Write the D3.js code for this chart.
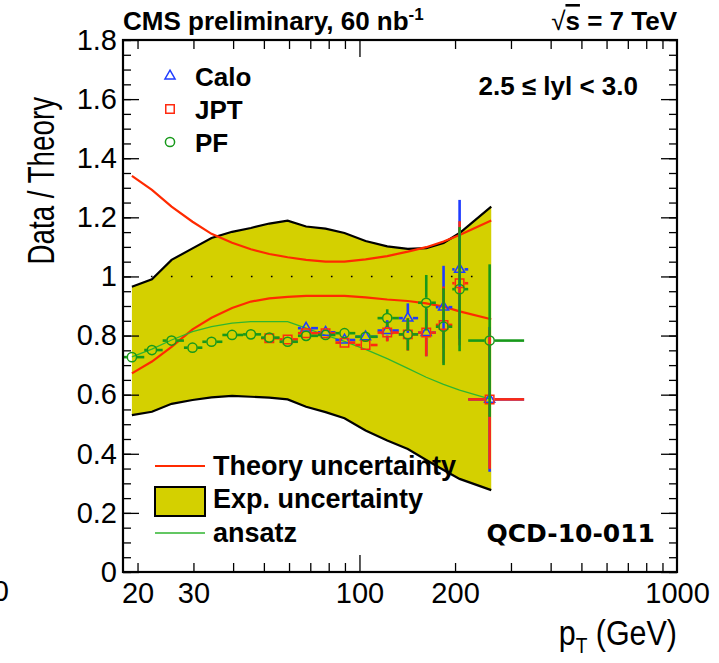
<!DOCTYPE html>
<html>
<head>
<meta charset="utf-8">
<script src="https://cdn.jsdelivr.net/npm/d3@7"></script>
<style>
body{margin:0;background:#fff;}
text{font-family:"Liberation Sans",Arial,Helvetica,sans-serif;fill:#000;}
</style>
</head>
<body>
<div id="plotDiv"></div>
<script>
// ---- data ----
const binEdges = [18, 21, 24, 28, 32, 37, 43, 49, 56, 64, 74, 84, 97, 114, 133, 153, 174, 196, 220, 330];
const ptCenters = [19.2, 22.2, 25.6, 29.8, 34.2, 39.7, 45.5, 52.0, 59.4, 67.9, 78.2, 89.7, 104.5, 122.3, 142, 162.3, 184, 206.7, 257];

const pfRatio = [0.727, 0.751, 0.783, 0.759, 0.779, 0.802, 0.804, 0.793, 0.779, 0.799, 0.802, 0.808, 0.796, 0.859, 0.804, 0.911, 0.830, 0.957, 0.783];
const pfErr   = [0.012, 0.012, 0.012, 0.012, 0.012, 0.012, 0.012, 0.012, 0.012, 0.012, 0.012, 0.012, 0.015, 0.03, 0.054, 0.094, 0.13, 0.21, 0.258];

const jptRatio = [null, null, null, null, null, null, null, 0.791, 0.787, 0.808, 0.808, 0.776, 0.768, 0.810, 0.804, 0.810, 0.836, 0.977, 0.584];
const jptErr   = [null, null, null, null, null, null, null, 0.012, 0.012, 0.012, 0.012, 0.012, 0.015, 0.03, 0.055, 0.08, 0.13, 0.21, 0.235];

const caloRatio = [null, null, null, null, null, null, null, null, null, 0.825, 0.811, 0.785, 0.796, 0.817, 0.859, 0.810, 0.896, 1.024, 0.584];
const caloErr   = [null, null, null, null, null, null, null, null, null, 0.012, 0.012, 0.012, 0.015, 0.035, 0.05, 0.08, 0.14, 0.235, 0.245];

// smooth curves (theory band, exp band, ansatz)
const curvePt = [19.2, 22.2, 25.6, 29.8, 34.2, 39.7, 45.5, 52.0, 59.4, 67.9, 78.2, 89.7, 104.5, 122.3, 142, 162.3, 184, 206.7, 260];
const expUp   = [0.965, 0.99, 1.056, 1.095, 1.130, 1.151, 1.164, 1.179, 1.189, 1.169, 1.162, 1.147, 1.120, 1.102, 1.093, 1.096, 1.113, 1.147, 1.236];
const expDown = [0.531, 0.542, 0.569, 0.582, 0.591, 0.596, 0.593, 0.590, 0.584, 0.559, 0.541, 0.520, 0.479, 0.445, 0.416, 0.379, 0.345, 0.315, 0.277];
const theoUp   = [1.340, 1.293, 1.236, 1.185, 1.144, 1.114, 1.092, 1.076, 1.065, 1.056, 1.050, 1.050, 1.058, 1.069, 1.084, 1.099, 1.118, 1.140, 1.189];
const theoDown = [0.672, 0.712, 0.762, 0.821, 0.860, 0.893, 0.915, 0.926, 0.931, 0.934, 0.934, 0.934, 0.929, 0.922, 0.917, 0.909, 0.898, 0.882, 0.855];
const ansatz   = [0.728, 0.754, 0.785, 0.813, 0.830, 0.842, 0.847, 0.847, 0.847, 0.825, 0.801, 0.780, 0.753, 0.722, 0.689, 0.659, 0.635, 0.615, 0.584];

// axis ticks
const xMinorTicks = [20, 30, 40, 50, 60, 70, 80, 90, 200, 300, 400, 500, 600, 700, 800, 900];
const xMajorTicks = [100];
const xTickLabels = [20, 30, 100, 200, 1000];
const yTickLabels = [0, 0.2, 0.4, 0.6, 0.8, 1, 1.2, 1.4, 1.6, 1.8];

// ---- setup ----
const W = 719, H = 663;
const frame = {left:123, right:677, top:40, bottom:572};

const svg = d3.select("#plotDiv").append("svg")
    .attr("width", W).attr("height", H);

const x = d3.scaleLog().domain([18, 1000]).range([frame.left, frame.right]);
const y = d3.scaleLinear().domain([0, 1.8]).range([frame.bottom, frame.top]);

const cBlue = "#1f3cff", cRed = "#ff2a10", cGreen = "#17991a";
const cYellow = "#d4d000";

// ---- exp uncertainty band ----
const bandArea = d3.area()
    .x((d, i) => x(curvePt[i]))
    .y0((d, i) => y(expDown[i]))
    .y1((d, i) => y(expUp[i]));
svg.append("path").datum(curvePt).attr("d", bandArea).attr("fill", cYellow);

const lineOf = arr => d3.line().x((d, i) => x(curvePt[i])).y((d, i) => y(arr[i]));
svg.append("path").datum(curvePt).attr("d", lineOf(expUp)).attr("fill", "none").attr("stroke", "#000").attr("stroke-width", 2.2);
svg.append("path").datum(curvePt).attr("d", lineOf(expDown)).attr("fill", "none").attr("stroke", "#000").attr("stroke-width", 2.2);

// dotted line at 1
svg.append("line")
    .attr("x1", x(22.2) - 1).attr("x2", 482)
    .attr("y1", y(1)).attr("y2", y(1))
    .attr("stroke", "#000").attr("stroke-width", 1.6)
    .attr("stroke-dasharray", "1.6,18.4");

// theory uncertainty lines
[theoUp, theoDown].forEach(arr => {
  svg.append("path").datum(curvePt).attr("d", lineOf(arr))
    .attr("fill", "none").attr("stroke", "#ff2a00").attr("stroke-width", 2.2);
});

// ansatz
svg.append("path").datum(curvePt).attr("d", lineOf(ansatz))
    .attr("fill", "none").attr("stroke", "#2fb52f").attr("stroke-width", 1.3);

// ---- data points ----
function drawSeries(vals, errs, color, shape) {
  const g = svg.append("g");
  const gap = 5;
  vals.forEach((v, i) => {
    if (v === null) return;
    const cx = x(ptCenters[i]), cy = y(v);
    const xl = x(binEdges[i]), xr = x(binEdges[i + 1]);
    const yt = y(v + errs[i]), yb = y(v - errs[i]);
    const segs = [];
    if (cx - gap > xl) segs.push([xl, cy, cx - gap, cy]);
    if (xr > cx + gap) segs.push([cx + gap, cy, xr, cy]);
    if (cy - gap > yt) segs.push([cx, yt, cx, cy - gap]);
    if (yb > cy + gap) segs.push([cx, cy + gap, cx, yb]);
    segs.forEach(s => g.append("line")
      .attr("x1", s[0]).attr("y1", s[1]).attr("x2", s[2]).attr("y2", s[3])
      .attr("stroke", color).attr("stroke-width", 2.6));
    drawMarker(g, cx, cy, color, shape);
  });
}

function drawMarker(g, cx, cy, color, shape) {
  if (shape === "circle") {
    g.append("circle").attr("cx", cx).attr("cy", cy).attr("r", 4.6)
      .attr("fill", "none").attr("stroke", color).attr("stroke-width", 1.5);
  } else {
    const sym = shape === "triangle" ? d3.symbolTriangle : d3.symbolSquare;
    const size = shape === "triangle" ? 44 : 72;
    g.append("path").attr("d", d3.symbol().type(sym).size(size)())
      .attr("transform", `translate(${cx},${cy})`)
      .attr("fill", "none").attr("stroke", color).attr("stroke-width", 1.5);
  }
}

drawSeries(caloRatio, caloErr, cBlue, "triangle");
drawSeries(jptRatio, jptErr, cRed, "square");
drawSeries(pfRatio, pfErr, cGreen, "circle");

// ---- axes ----
function noDomain(g) { g.select(".domain").remove(); }

svg.append("g").attr("transform", `translate(0,${frame.bottom})`)
    .call(d3.axisBottom(x).tickValues(xMinorTicks).tickSize(-9).tickFormat("")).call(noDomain);
svg.append("g").attr("transform", `translate(0,${frame.bottom})`)
    .call(d3.axisBottom(x).tickValues(xMajorTicks).tickSize(-17).tickFormat("")).call(noDomain);
svg.append("g").attr("transform", `translate(0,${frame.top})`)
    .call(d3.axisTop(x).tickValues(xMinorTicks).tickSize(-9).tickFormat("")).call(noDomain);
svg.append("g").attr("transform", `translate(0,${frame.top})`)
    .call(d3.axisTop(x).tickValues(xMajorTicks).tickSize(-17).tickFormat("")).call(noDomain);

const xLab = svg.append("g").attr("transform", `translate(0,${frame.bottom})`)
    .call(d3.axisBottom(x).tickValues(xTickLabels).tickSize(0).tickPadding(8).tickFormat(d3.format("d")))
    .call(noDomain);
xLab.selectAll("text").style("font-size", "29px").attr("dy", "0.78em");

const yMinor = d3.range(0, 37).map(i => i * 0.05);
svg.append("g").attr("transform", `translate(${frame.left},0)`)
    .call(d3.axisLeft(y).tickValues(yMinor).tickSize(-8).tickFormat("")).call(noDomain);
svg.append("g").attr("transform", `translate(${frame.right},0)`)
    .call(d3.axisRight(y).tickValues(yMinor).tickSize(-8).tickFormat("")).call(noDomain);
svg.append("g").attr("transform", `translate(${frame.right},0)`)
    .call(d3.axisRight(y).tickValues(yTickLabels).tickSize(-16).tickFormat("")).call(noDomain);
const yLab = svg.append("g").attr("transform", `translate(${frame.left},0)`)
    .call(d3.axisLeft(y).tickValues(yTickLabels).tickSize(-16).tickPadding(6)
      .tickFormat(d => d === 0 ? "0" : d === 1 ? "1" : d.toFixed(1)))
    .call(noDomain);
yLab.selectAll("text").style("font-size", "29px");
svg.selectAll(".tick line").attr("stroke", "#000").attr("stroke-width", 1.3);

// frame
svg.append("rect")
    .attr("x", frame.left).attr("y", frame.top)
    .attr("width", frame.right - frame.left).attr("height", frame.bottom - frame.top)
    .attr("fill", "none").attr("stroke", "#000").attr("stroke-width", 2.2);

// clipped neighbour label at far left
svg.append("text").attr("x", 9).attr("y", 601).attr("text-anchor", "end")
    .style("font-size", "29px").text("0");

// ---- titles ----
svg.append("text")
    .attr("transform", "translate(54,97) rotate(-90) scale(0.75,1)")
    .attr("text-anchor", "end")
    .style("font-size", "37px").text("Data / Theory");

const xt = svg.append("text")
    .attr("transform", `translate(${frame.right},645) scale(0.87,1)`)
    .attr("text-anchor", "end").style("font-size", "35px");
xt.append("tspan").text("p");
xt.append("tspan").attr("dy", 8).style("font-size", "22px").text("T");
xt.append("tspan").attr("dy", -8).text(" (GeV)");

const t1 = svg.append("text").attr("x", frame.left).attr("y", 30)
    .style("font-size", "26px").style("font-weight", "bold");
t1.append("tspan").text("CMS preliminary, 60 nb");
t1.append("tspan").attr("dy", -10).style("font-size", "17px").text("-1");

const t2 = svg.append("text").attr("x", frame.right).attr("y", 30)
    .attr("text-anchor", "end")
    .style("font-size", "26px").style("font-weight", "bold");
t2.append("tspan").style("font-weight", "normal").text("\u221A");
t2.append("tspan").attr("text-decoration", "overline").text("s");
t2.append("tspan").text(" = 7 TeV");

svg.append("text").attr("x", 638).attr("y", 95).attr("text-anchor", "end")
    .style("font-size", "26px").style("font-weight", "bold")
    .text("2.5 \u2264 lyl < 3.0");

// ---- legends ----
const legTop = [["Calo", cBlue, "triangle", 77], ["JPT", cRed, "square", 110], ["PF", cGreen, "circle", 143]];
legTop.forEach(l => {
  drawMarker(svg, 170, l[3] - 1, l[1], l[2]);
  svg.append("text").attr("x", 195).attr("y", l[3] + 9)
    .style("font-size", "26px").style("font-weight", "bold").text(l[0]);
});

const legBottom = svg.append("g");
legBottom.append("line").attr("x1", 155).attr("x2", 205).attr("y1", 466).attr("y2", 466)
    .attr("stroke", "#ff2a00").attr("stroke-width", 2.2);
legBottom.append("rect").attr("x", 155).attr("y", 487).attr("width", 50).attr("height", 29)
    .attr("fill", cYellow).attr("stroke", "#000").attr("stroke-width", 2);
legBottom.append("line").attr("x1", 155).attr("x2", 205).attr("y1", 533).attr("y2", 533)
    .attr("stroke", "#2fb52f").attr("stroke-width", 1.5);
[["Theory uncertainty", 475], ["Exp. uncertainty", 508], ["ansatz", 542]].forEach(l => {
  legBottom.append("text").attr("x", 213).attr("y", l[1])
    .style("font-size", "27px").style("font-weight", "bold").text(l[0]);
});

svg.append("text").attr("x", 655).attr("y", 542).attr("text-anchor", "end")
    .style("font-family", "'DejaVu Sans', sans-serif")
    .style("font-size", "25px").style("font-weight", "bold")
    .text("QCD-10-011");
</script>
</body>
</html>
